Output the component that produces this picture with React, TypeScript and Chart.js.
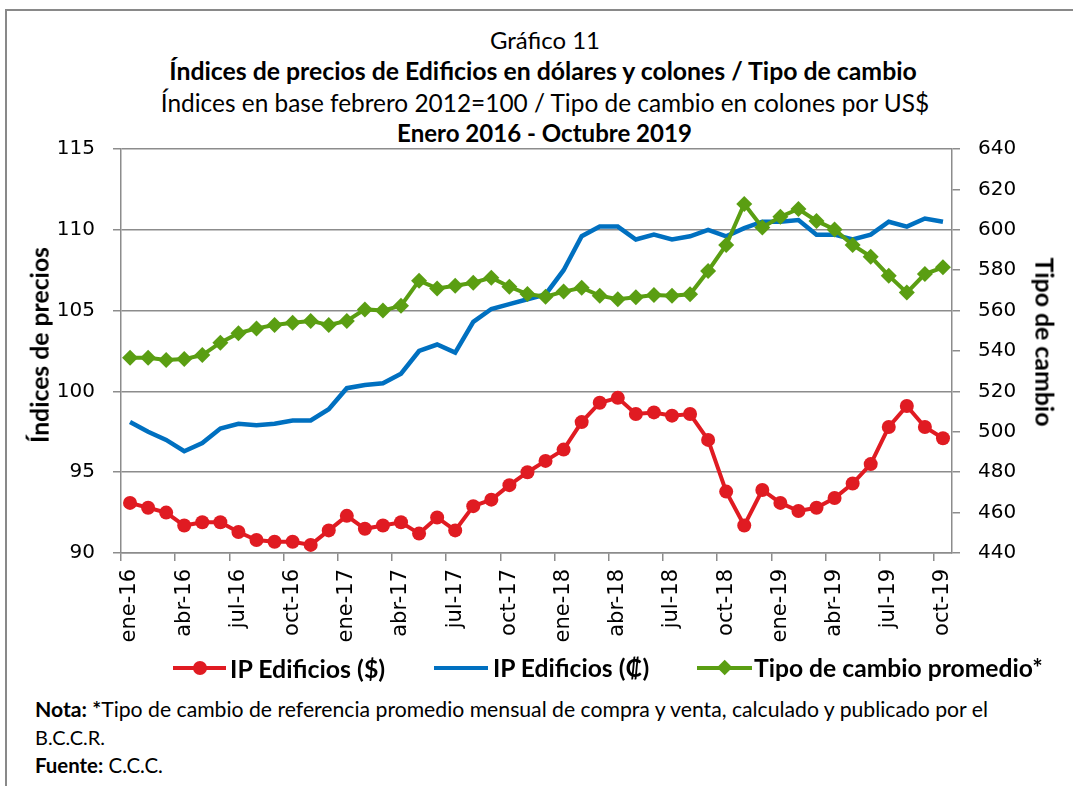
import React, { useEffect, useRef } from 'react';
import { Chart, registerables } from 'chart.js';

Chart.register(...registerables);

const categories = [
  'ene-16', 'feb-16', 'mar-16', 'abr-16', 'may-16', 'jun-16', 'jul-16', 'ago-16', 'sep-16', 'oct-16', 'nov-16', 'dic-16',
  'ene-17', 'feb-17', 'mar-17', 'abr-17', 'may-17', 'jun-17', 'jul-17', 'ago-17', 'sep-17', 'oct-17', 'nov-17', 'dic-17',
  'ene-18', 'feb-18', 'mar-18', 'abr-18', 'may-18', 'jun-18', 'jul-18', 'ago-18', 'sep-18', 'oct-18', 'nov-18', 'dic-18',
  'ene-19', 'feb-19', 'mar-19', 'abr-19', 'may-19', 'jun-19', 'jul-19', 'ago-19', 'sep-19', 'oct-19',
];

const ipDolares = [
  93.1, 92.8, 92.5, 91.7, 91.9, 91.9, 91.3, 90.8, 90.7, 90.7, 90.5, 91.4,
  92.3, 91.5, 91.7, 91.9, 91.2, 92.2, 91.4, 92.9, 93.3, 94.2, 95.0, 95.7,
  96.4, 98.1, 99.3, 99.6, 98.6, 98.7, 98.5, 98.6, 97.0, 93.8, 91.7, 93.9,
  93.1, 92.6, 92.8, 93.4, 94.3, 95.5, 97.8, 99.1, 97.8, 97.1,
];

const ipColones = [
  98.1, 97.5, 97.0, 96.3, 96.8, 97.7, 98.0, 97.9, 98.0, 98.2, 98.2, 98.9,
  100.2, 100.4, 100.5, 101.1, 102.5, 102.9, 102.4, 104.3, 105.1, 105.4, 105.7, 106.0,
  107.5, 109.6, 110.2, 110.2, 109.4, 109.7, 109.4, 109.6, 110.0, 109.6, 110.1, 110.5,
  110.5, 110.6, 109.7, 109.7, 109.4, 109.7, 110.5, 110.2, 110.7, 110.5,
];

const tipoCambio = [
  536.7, 536.7, 535.5, 536.0, 538.0, 544.1, 548.8, 551.2, 552.9, 554.0, 554.9, 552.9,
  554.9, 560.6, 560.0, 562.4, 574.8, 571.0, 572.3, 573.8, 576.3, 571.8, 568.2, 566.9,
  569.4, 571.3, 567.4, 565.6, 566.6, 567.7, 567.4, 568.1, 579.6, 592.5, 612.8, 601.2,
  606.5, 610.3, 604.4, 600.2, 592.5, 586.7, 577.3, 568.9, 578.1, 581.4,
];

const leftTicks = { min: 90, max: 115, step: 5 };
const rightTicks = { min: 440, max: 640, step: 20 };

const RED = '#E01B22';
const BLUE = '#0070C0';
const GREEN = '#5A9E12';
const GRID = '#8C8C8C';
const CAL = 'Lato, "Open Sans", sans-serif';
const AXF = '"DejaVu Sans", sans-serif';

let mctx: CanvasRenderingContext2D | null = null;
function textWidth(t: string, bold: boolean, family: string, size: number) {
  if (!mctx) mctx = document.createElement('canvas').getContext('2d');
  mctx!.font = `${bold ? 'bold' : 'normal'} ${size}px ${family}`;
  return mctx!.measureText(t).width;
}

type Seg = { t: string; b?: boolean };

function Txt(props: { segs: Seg[]; x: number; y: number; w: number; anchor?: 'left' | 'center'; rot?: number; family?: string }) {
  const { segs, x, y, w, anchor = 'left', rot = 0, family = CAL } = props;
  let tw = 0;
  segs.forEach((s) => (tw += textWidth(s.t, !!s.b, family, 100)));
  const size = (100 * w) / tw;
  const style: any = {
    position: 'absolute',
    whiteSpace: 'pre',
    fontFamily: family,
    fontSize: size + 'px',
    lineHeight: 1,
    color: '#000',
    left: x,
    top: y,
  };
  if (rot) style.transform = `translate(-50%,-50%) rotate(${rot}deg)`;
  else style.transform = anchor === 'center' ? 'translate(-50%,-50%)' : 'translateY(-50%)';
  return (
    <div style={style}>
      {segs.map((s, i) => (
        <span key={i} style={{ fontWeight: s.b ? 700 : 400 }}>{s.t}</span>
      ))}
    </div>
  );
}

export default function App() {
  const ref = useRef<HTMLCanvasElement>(null);

  useEffect(() => {
    document.body.style.margin = '0';
    const chart = new Chart(ref.current!, {
      type: 'line',
      data: {
        labels: categories,
        datasets: [
          {
            label: 'IP Edificios ($)',
            data: ipDolares,
            yAxisID: 'y',
            borderColor: RED,
            backgroundColor: RED,
            borderWidth: 4,
            pointRadius: 7,
            pointHoverRadius: 7,
            pointBorderWidth: 0,
            pointBackgroundColor: RED,
            tension: 0,
            order: 1,
          },
          {
            label: 'IP Edificios (₡)',
            data: ipColones,
            yAxisID: 'y',
            borderColor: BLUE,
            backgroundColor: BLUE,
            borderWidth: 4.5,
            pointRadius: 0,
            tension: 0,
            order: 2,
          },
          {
            label: 'Tipo de cambio promedio*',
            data: tipoCambio,
            yAxisID: 'y1',
            borderColor: GREEN,
            backgroundColor: GREEN,
            borderWidth: 4,
            pointStyle: 'rectRot',
            pointRadius: 8,
            pointHoverRadius: 8,
            pointBorderWidth: 0,
            pointBackgroundColor: GREEN,
            tension: 0,
            order: 0,
          },
        ],
      },
      options: {
        animation: false,
        responsive: false,
        events: [],
        layout: { padding: { top: 20, left: 0, right: 0, bottom: 0 } },
        plugins: { legend: { display: false }, tooltip: { enabled: false }, title: { display: false } },
        scales: {
          x: {
            type: 'category',
            offset: true,
            grid: {
              offset: true,
              drawOnChartArea: false,
              drawTicks: true,
              tickLength: 8,
              lineWidth: 1.5,
              color: (ctx: any) => (ctx.index !== undefined && ctx.index % 3 === 0 ? GRID : 'rgba(0,0,0,0)'),
            },
            border: { display: true, color: GRID, width: 1.5 },
            ticks: {
              autoSkip: false,
              minRotation: 90,
              maxRotation: 90,
              padding: 8,
              color: '#000',
              font: { family: AXF, size: 21 },
              callback: (_v: any, i: number) => (i % 3 === 0 ? categories[i] : ''),
            },
            afterFit: (s: any) => {
              s.height = 106;
            },
          },
          y: {
            position: 'left',
            min: leftTicks.min,
            max: leftTicks.max,
            ticks: { stepSize: leftTicks.step, padding: 18, color: '#000', font: { family: AXF, size: 20 } },
            grid: { color: GRID, lineWidth: 1.5, tickLength: 8 },
            border: { display: true, color: GRID, width: 1.5 },
            afterFit: (s: any) => {
              s.width = 121;
            },
          },
          y1: {
            position: 'right',
            min: rightTicks.min,
            max: rightTicks.max,
            ticks: { stepSize: rightTicks.step, padding: 18, color: '#000', font: { family: AXF, size: 20 } },
            grid: { drawOnChartArea: false, color: GRID, lineWidth: 1.5, tickLength: 8 },
            border: { display: true, color: GRID, width: 1.5 },
            afterFit: (s: any) => {
              s.width = 121;
            },
          },
        },
      } as any,
    });
    return () => chart.destroy();
  }, []);

  return (
    <div style={{ position: 'absolute', left: 0, top: 0, width: 1073, height: 786, background: '#fff', overflow: 'hidden' }}>
      <div style={{ position: 'absolute', left: 5, top: 9, width: 1068, height: 2, background: '#898989' }} />
      <div style={{ position: 'absolute', left: 5, top: 9, width: 2, height: 777, background: '#898989' }} />

      <Txt segs={[{ t: 'Gráfico 11' }]} x={545} y={40} w={110} anchor="center" />
      <Txt segs={[{ t: 'Índices de precios de Edificios en dólares y colones / Tipo de cambio', b: true }]} x={543} y={71} w={750} anchor="center" />
      <Txt segs={[{ t: 'Índices en base febrero 2012=100 / Tipo de cambio en colones por US$' }]} x={545} y={103} w={770} anchor="center" />
      <Txt segs={[{ t: 'Enero 2016 - Octubre 2019', b: true }]} x={544.5} y={133} w={295} anchor="center" />

      <canvas ref={ref} width={1073} height={540} style={{ position: 'absolute', left: 0, top: 119, width: 1073, height: 540 }} />

      <Txt segs={[{ t: 'Índices de precios', b: true }]} x={40} y={345} w={196} rot={-90} />
      <Txt segs={[{ t: 'Tipo de cambio', b: true }]} x={1045} y={342} w={169} rot={90} />

      <div style={{ position: 'absolute', left: 173, top: 666, width: 53, height: 4, background: RED }} />
      <div style={{ position: 'absolute', left: 192.5, top: 661, width: 14, height: 14, borderRadius: 7, background: RED }} />
      <Txt segs={[{ t: 'IP Edificios ($)', b: true }]} x={230} y={668} w={156} />

      <div style={{ position: 'absolute', left: 434, top: 665.75, width: 54, height: 4.5, background: BLUE }} />
      <Txt segs={[{ t: 'IP Edificios (₡)', b: true }]} x={493} y={668} w={157} />

      <div style={{ position: 'absolute', left: 697, top: 666, width: 55, height: 4, background: GREEN }} />
      <div style={{ position: 'absolute', left: 718.8, top: 662.3, width: 11.4, height: 11.4, background: GREEN, transform: 'rotate(45deg)' }} />
      <Txt segs={[{ t: 'Tipo de cambio promedio*', b: true }]} x={754} y={668} w={289} />

      <Txt
        segs={[{ t: 'Nota: *', b: true }, { t: 'Tipo de cambio de referencia promedio mensual de compra y venta, calculado y publicado por el' }]}
        x={35}
        y={710}
        w={957}
      />
      <Txt segs={[{ t: 'B.C.C.R.' }]} x={35} y={738} w={70} />
      <Txt segs={[{ t: 'Fuente:', b: true }, { t: ' C.C.C.' }]} x={35} y={765} w={128} />
    </div>
  );
}
